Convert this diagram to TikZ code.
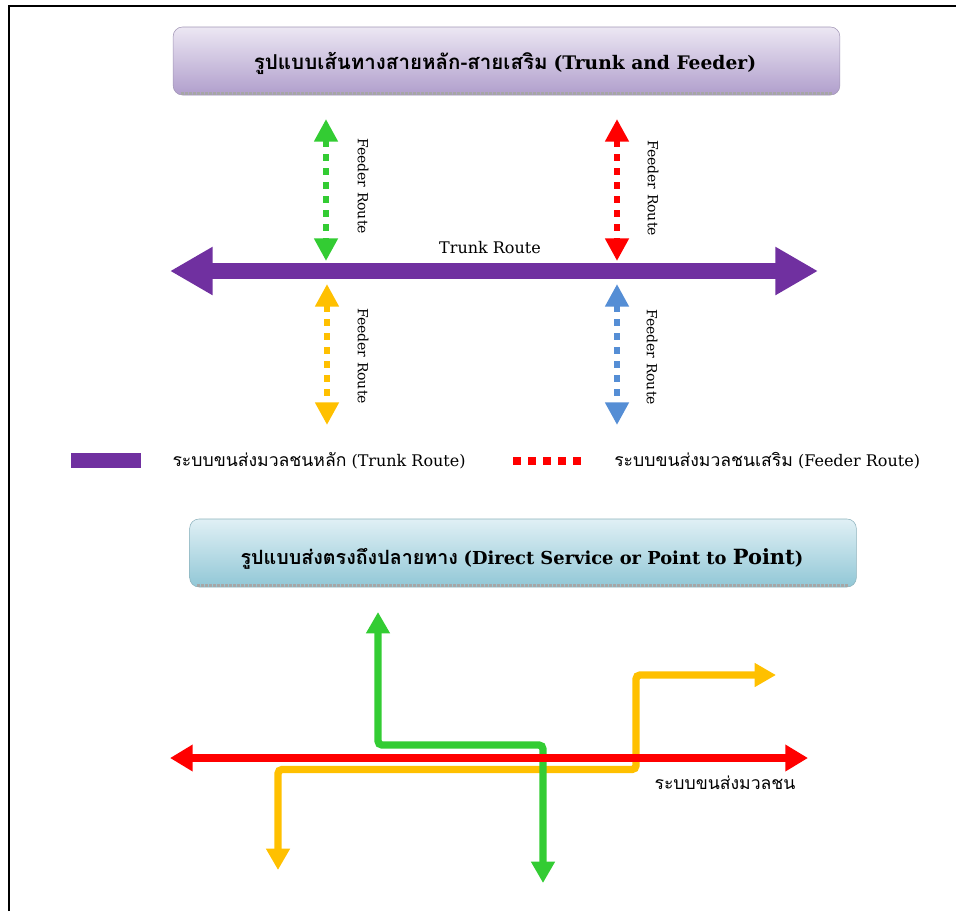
\documentclass[tikz,border=0pt]{standalone}
\usepackage{fontspec}
\setmainfont{DejaVu Serif}
\newfontfamily\thaifont[Script=Thai,Scale=1.1]{Loma}
\usepackage{xcolor}
\usetikzlibrary{positioning}
\usetikzlibrary{arrows.meta}
\definecolor{trunkpurple}{RGB}{112,48,160}
\definecolor{fgreen}{RGB}{51,204,51}
\definecolor{fred}{RGB}{255,0,0}
\definecolor{fyellow}{RGB}{255,192,0}
\definecolor{fblue}{RGB}{85,142,213}
\definecolor{lavtop}{RGB}{236,231,243}
\definecolor{lavbot}{RGB}{176,158,204}
\definecolor{cyantop}{RGB}{224,240,245}
\definecolor{cyanbot}{RGB}{145,199,214}

\begin{document}
\begin{tikzpicture}[x=0.75pt, y=-0.75pt,
  titlebox/.style={rounded corners=7pt, minimum width=500pt, minimum height=51pt, inner sep=0pt, draw=#1!70!gray, line width=0.4pt},
  titletext/.style={font=\fontsize{14}{16}\selectfont, inner sep=0pt},
  strip/.style={gray!70, densely dotted, line width=2pt},
  trunk/.style={draw=trunkpurple, line width=11.5pt, {Triangle[width=34pt,length=32pt]}-{Triangle[width=34pt,length=32pt]}},
  feeder/.style={draw=#1, line width=4.5pt, dash pattern=on 5pt off 5.5pt, {Triangle[width=17pt,length=17pt]}-{Triangle[width=17pt,length=17pt]}},
  flabel/.style={rotate=-90, font=\fontsize{10.5}{12}\selectfont, inner sep=0pt},
  legend/.style={font=\fontsize{12}{14}\selectfont, inner sep=0pt, anchor=west},
  route/.style={draw=#1, line width=5.5pt, rounded corners=3pt, {Triangle[width=17pt,length=16pt]}-{Triangle[width=17pt,length=16pt]}}]
\useasboundingbox (0,0) rectangle (956,911);
\draw[line width=1.5pt] (8.5,911) -- (8.5,5.5) -- (956,5.5);

% trunk and feeder
\node[titlebox=lavbot, top color=lavtop, bottom color=lavbot] (T1) at (506.5,61) {};
\draw[strip] ([xshift=6pt,yshift=1.5pt]T1.south west) -- ([xshift=-6pt,yshift=1.5pt]T1.south east);
\node[titletext] (T1t) at (505,63) {{\thaifont\bfseries รูปแบบเส้นทางสายหลัก-สายเสริม} \textbf{(Trunk and Feeder)}};

\coordinate (TL) at (170,271);
\coordinate (TR) at (818,271);
\draw[trunk] (TL) -- (TR);
\node[font=\fontsize{12}{14}\selectfont] (TT) at (490,248) {Trunk Route};

\coordinate (G1) at (326,119);
\coordinate (G2) at (326,261);
\coordinate (Y1) at (327,284);
\coordinate (Y2) at (327,425);
\coordinate (R1) at (617,119);
\coordinate (R2) at (617,261);
\coordinate (B1) at (617,284);
\coordinate (B2) at (617,425);
\draw[feeder=fgreen] (G1) -- (G2);
\draw[feeder=fyellow] (Y1) -- (Y2);
\draw[feeder=fred] (R1) -- (R2);
\draw[feeder=fblue] (B1) -- (B2);
\node[flabel] (LG) at (363,186) {Feeder Route};
\node[flabel] (LY) at (363,356) {Feeder Route};
\node[flabel] (LR) at (653,188) {Feeder Route};
\node[flabel] (LB) at (652,357) {Feeder Route};

% legend
\node[fill=trunkpurple, minimum width=53pt, minimum height=11pt, inner sep=0pt] (LP) at (106,460.5) {};
\node[legend, right=23pt of LP] (LPT) {{\thaifont ระบบขนส่งมวลชนหลัก} (Trunk Route)};
\coordinate (RD1) at (513,461);
\coordinate (RD2) at (581,461);
\draw[fred, line width=5.5pt, dash pattern=on 6pt off 5.25pt] (RD1) -- (RD2);
\node[legend] (RDT) at (614,461) {{\thaifont ระบบขนส่งมวลชนเสริม} (Feeder Route)};

% direct service
\node[titlebox=cyanbot, top color=cyantop, bottom color=cyanbot] (T2) at (523,553) {};
\draw[strip] ([xshift=6pt,yshift=1.5pt]T2.south west) -- ([xshift=-6pt,yshift=1.5pt]T2.south east);
\node[titletext, font=\fontsize{13.4}{16}\selectfont] (T2t) at (522,559) {{\thaifont\bfseries รูปแบบส่งตรงถึงปลายทาง} \textbf{(Direct Service or Point to {\fontsize{15.7}{18}\selectfont Point})}};

\coordinate (YD) at (278,870);
\coordinate (YK) at (636,769.5);
\coordinate (YR) at (776,675);
\coordinate (GU) at (378,612);
\coordinate (GK) at (543,745);
\coordinate (GD) at (543,883);
\coordinate (RA1) at (170,758);
\coordinate (RA2) at (808,758);
\draw[route=fyellow] (YD) |- (YK) |- (YR);
\draw[route=fgreen] (GU) |- (GK) -- (GD);
\draw[draw=fred, line width=6pt, {Triangle[width=19pt,length=17pt]}-{Triangle[width=19pt,length=17pt]}] (RA1) -- (RA2);
\node[font=\thaifont\fontsize{12}{14}\selectfont] (MT) at (725,783) {ระบบขนส่งมวลชน};
\end{tikzpicture}
\end{document}
